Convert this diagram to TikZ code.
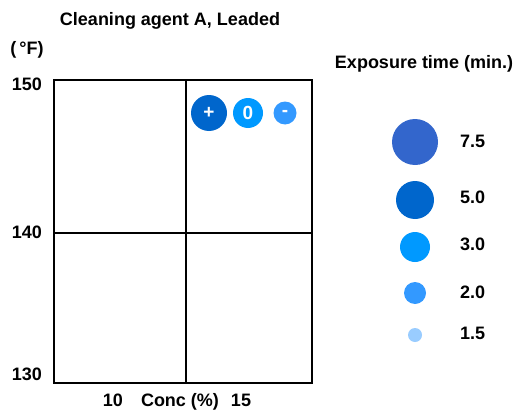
\documentclass[tikz,border=0pt]{standalone}
\usepackage{fontspec}
\setmainfont{Liberation Sans}
\definecolor{tseven}{HTML}{3366CC}
\definecolor{tfive}{HTML}{0066CC}
\definecolor{tthree}{HTML}{0099FF}
\definecolor{ttwo}{HTML}{3399FF}
\definecolor{tone}{HTML}{99CCFF}
\tikzset{
  lbl/.style={font=\fontsize{18}{20}\selectfont\bfseries, inner sep=0pt, anchor=base},
  bubble/.style={circle, inner sep=0pt, minimum size=#1, text=white,
    font=\fontsize{19}{20}\selectfont\bfseries}
}
\begin{document}
\begin{tikzpicture}[x=1pt,y=-1pt,line width=2pt]
	\useasboundingbox (0,0) rectangle (519,412);
	\draw (54,80) rectangle (312,383); % main rectangle
	\draw (186,80) -- (186,383); % conc 12.5
	\draw (54,233) -- (312,233); % temp 140
	% labels
	\node[lbl] (title) at (170,26) {Cleaning agent A, Leaded};
	\node[lbl] (unit) at (27,55) {(\,\textdegree F)};
	\node[lbl] (t150) at (27,90) {150};
	\node[lbl] (t140) at (27,238) {140};
	\node[lbl] (t130) at (27,380) {130};
	\node[lbl] (c10) at (113,406) {10};
	\node[lbl] (conc) at (180,406) {Conc (\%)};
	\node[lbl] (c15) at (241,406) {15};
	% results
	\node[bubble=36pt, fill=tfive] (plus) at (209,113) {+};
	\node[bubble=30pt, fill=tthree] (zero) at (248,113) {0};
	\node[bubble=23pt, fill=ttwo] (minus) at (285,113) {-};
	% legend
	\node[lbl] (legend) at (424,68) {Exposure time (min.)};
	\node[bubble=46pt, fill=tseven] (d75) at (415,142) {};
	\node[bubble=38pt, fill=tfive] (d50) at (415,200) {};
	\node[bubble=30pt, fill=tthree] (d30) at (415,247) {};
	\node[bubble=22pt, fill=ttwo] (d20) at (415,293) {};
	\node[bubble=14pt, fill=tone] (d15) at (415,335) {};
	\node[lbl, anchor=base west] (l75) at (459,147) {7.5};
	\node[lbl, anchor=base west] (l50) at (459,203) {5.0};
	\node[lbl, anchor=base west] (l30) at (459,250) {3.0};
	\node[lbl, anchor=base west] (l20) at (459,298) {2.0};
	\node[lbl, anchor=base west] (l15) at (459,339) {1.5};
\end{tikzpicture}
\end{document}
